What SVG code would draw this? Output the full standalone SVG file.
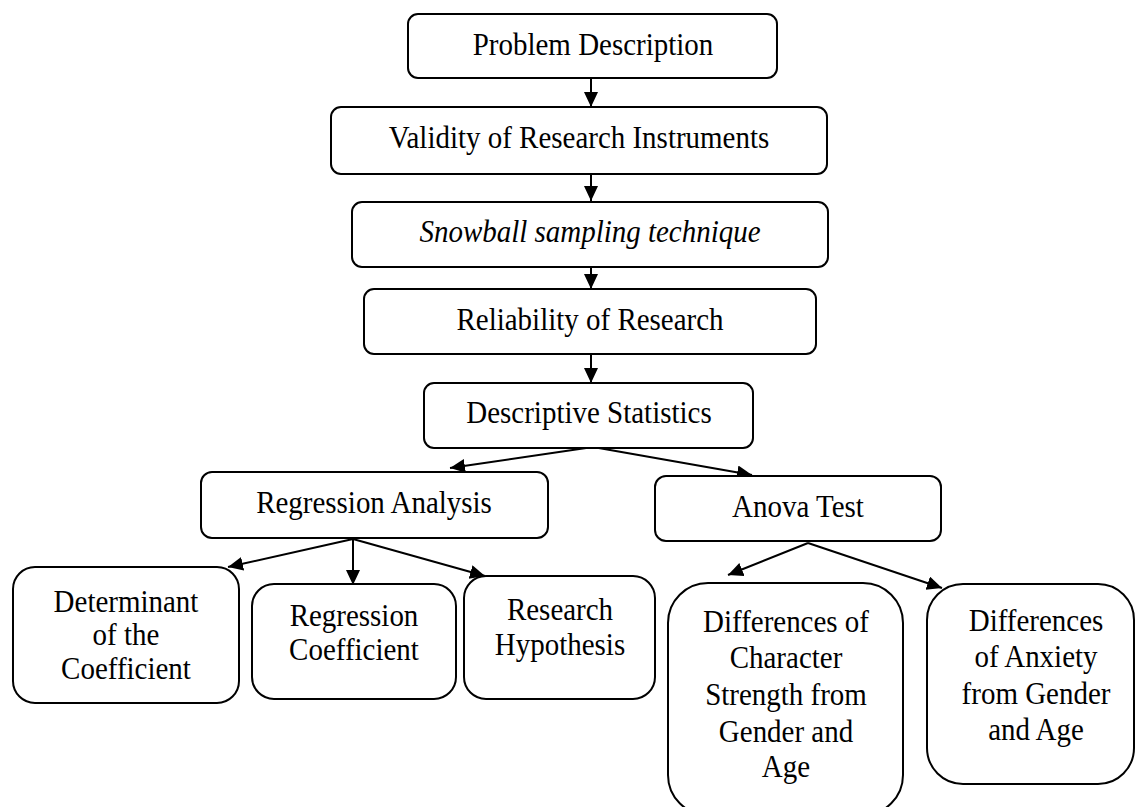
<svg xmlns="http://www.w3.org/2000/svg" width="1137" height="807" viewBox="0 0 1137 807">
<style>
.box{fill:#fff;stroke:#000;stroke-width:2}
.t{font-family:"Liberation Serif","Times New Roman",serif;font-size:31.5px;fill:#000;text-anchor:middle}
.i{font-style:italic}
.c{stroke:#000;stroke-width:2;fill:none;marker-end:url(#ah)}
</style>
<defs>
<marker id="ah" markerUnits="userSpaceOnUse" markerWidth="16" markerHeight="16" refX="15" refY="7" orient="auto">
<path d="M0,0 L15,7 L0,14 z" fill="#000"/>
</marker>
</defs>
<rect width="1137" height="807" fill="#fff"/>
<g id="connectors">
<line class="c" x1="591" y1="78" x2="591" y2="107"/>
<line class="c" x1="591" y1="174" x2="591" y2="201"/>
<line class="c" x1="591" y1="262" x2="591" y2="289"/>
<line class="c" x1="591" y1="354" x2="591" y2="383"/>
<line class="c" x1="593" y1="447" x2="450" y2="468"/>
<line class="c" x1="593" y1="447" x2="752" y2="475"/>
<line class="c" x1="353" y1="539" x2="228" y2="567"/>
<line class="c" x1="353" y1="539" x2="353" y2="585"/>
<line class="c" x1="353" y1="539" x2="485" y2="576"/>
<line class="c" x1="808" y1="543" x2="728" y2="575"/>
<line class="c" x1="808" y1="543" x2="942" y2="588"/>
</g>
<g id="problem-description">
<rect class="box" x="408" y="14" width="369" height="64" rx="10"/>
<text class="t" transform="translate(593,55) scale(0.92,1)">Problem Description</text>
</g>
<g id="validity">
<rect class="box" x="331" y="107" width="496" height="67" rx="10"/>
<text class="t" transform="translate(579,148) scale(0.92,1)">Validity of Research Instruments</text>
</g>
<g id="snowball">
<rect class="box" x="352" y="202" width="476" height="65" rx="10"/>
<text class="t i" transform="translate(590,242) scale(0.92,1)">Snowball sampling technique</text>
</g>
<g id="reliability">
<rect class="box" x="364" y="289" width="452" height="65" rx="10"/>
<text class="t" transform="translate(590,330) scale(0.92,1)">Reliability of Research</text>
</g>
<g id="descriptive">
<rect class="box" x="424" y="383" width="329" height="65" rx="10"/>
<text class="t" transform="translate(589,423) scale(0.92,1)">Descriptive Statistics</text>
</g>
<g id="regression-analysis">
<rect class="box" x="201" y="472" width="347" height="66" rx="11"/>
<text class="t" transform="translate(374,513) scale(0.92,1)">Regression Analysis</text>
</g>
<g id="anova">
<rect class="box" x="655" y="476" width="286" height="65" rx="11"/>
<text class="t" transform="translate(798,517) scale(0.92,1)">Anova Test</text>
</g>
<g id="determinant">
<rect class="box" x="13" y="567" width="226" height="136" rx="22"/>
<text class="t" transform="translate(126,612) scale(0.92,1)">Determinant</text>
<text class="t" transform="translate(126,645) scale(0.92,1)">of the</text>
<text class="t" transform="translate(126,679) scale(0.92,1)">Coefficient</text>
</g>
<g id="regression-coefficient">
<rect class="box" x="252" y="584" width="204" height="115" rx="22"/>
<text class="t" transform="translate(354,626) scale(0.92,1)">Regression</text>
<text class="t" transform="translate(354,660) scale(0.92,1)">Coefficient</text>
</g>
<g id="research-hypothesis">
<rect class="box" x="464" y="576" width="191" height="123" rx="22"/>
<text class="t" transform="translate(560,620) scale(0.92,1)">Research</text>
<text class="t" transform="translate(560,655) scale(0.92,1)">Hypothesis</text>
</g>
<g id="character-strength">
<rect class="box" x="668" y="583" width="235" height="232" rx="40"/>
<text class="t" transform="translate(786,632) scale(0.92,1)">Differences of</text>
<text class="t" transform="translate(786,668) scale(0.92,1)">Character</text>
<text class="t" transform="translate(786,705) scale(0.92,1)">Strength from</text>
<text class="t" transform="translate(786,742) scale(0.92,1)">Gender and</text>
<text class="t" transform="translate(786,777) scale(0.92,1)">Age</text>
</g>
<g id="anxiety">
<rect class="box" x="927" y="584" width="207" height="200" rx="36"/>
<text class="t" transform="translate(1036,631) scale(0.92,1)">Differences</text>
<text class="t" transform="translate(1036,667) scale(0.92,1)">of Anxiety</text>
<text class="t" transform="translate(1036,704) scale(0.92,1)">from Gender</text>
<text class="t" transform="translate(1036,740) scale(0.92,1)">and Age</text>
</g>
</svg>
